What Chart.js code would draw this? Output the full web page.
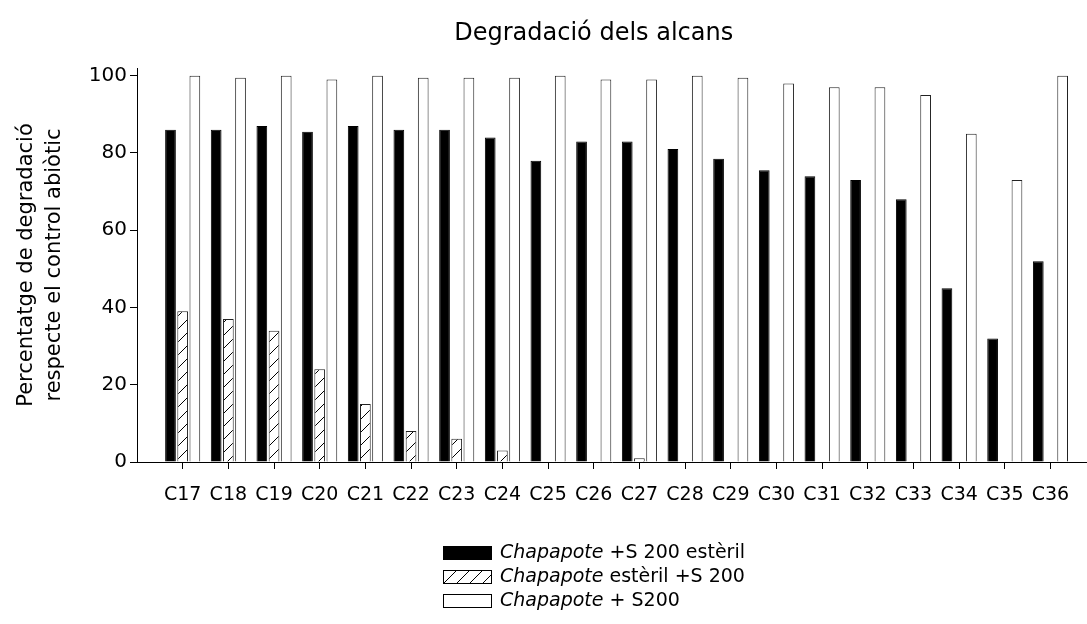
<!DOCTYPE html>
<html>
<head>
<meta charset="utf-8">
<title>Degradació dels alcans</title>
<script src="https://cdn.jsdelivr.net/npm/chart.js@4.4.0/dist/chart.umd.min.js"></script>
<style>
    html, body { margin: 0; padding: 0; background: #fff; }
    #wrap { width: 1087px; height: 624px; }
</style>
</head>
<body>
<div id="wrap"><canvas id="alkaneChart" width="1087" height="624"></canvas></div>
<script>
// Alkane chain lengths
const categories = ['C17', 'C18', 'C19', 'C20', 'C21', 'C22', 'C23', 'C24', 'C25', 'C26',
                    'C27', 'C28', 'C29', 'C30', 'C31', 'C32', 'C33', 'C34', 'C35', 'C36'];

// % degradation vs abiotic control
const sterileS200 = [86, 86, 87, 85.5, 87, 86, 86, 84, 78, 83, 83, 81, 78.5, 75.5, 74, 73, 68, 45, 32, 52];
const sterileChapapote = [39, 37, 34, 24, 15, 8, 6, 3, 0, 0, 1, 0, 0, 0, 0, 0, 0, 0, 0, 0];
const chapapoteS200 = [100, 99.5, 100, 99, 100, 99.5, 99.5, 99.5, 100, 99, 99, 100, 99.5, 98, 97, 97, 95, 85, 73, 100];

const yTicks = [0, 20, 40, 60, 80, 100];

const legendItalic = ['Chapapote', 'Chapapote', 'Chapapote'];
const legendRest = [' +S 200 estèril', ' estèril +S 200', ' + S200'];

const FONT = "'DejaVu Sans', sans-serif";

// Diagonal hatch fill for the sterile chapapote bars
function hatchPattern(ctx) {
    const size = 13;
    const c = document.createElement('canvas');
    c.width = size;
    c.height = size;
    const g = c.getContext('2d');
    g.fillStyle = '#fff';
    g.fillRect(0, 0, size, size);
    g.strokeStyle = '#000';
    g.lineWidth = 1;
    g.beginPath();
    g.moveTo(0, size);
    g.lineTo(size, 0);
    g.moveTo(-1, 1);
    g.lineTo(1, -1);
    g.moveTo(size - 1, size + 1);
    g.lineTo(size + 1, size - 1);
    g.stroke();
    return ctx.createPattern(c, 'repeat');
}

const toPoints = arr => arr.map((v, i) => ({ x: i, y: v }));

// Title and stacked legend, drawn on the canvas after the bars
const annotations = {
    id: 'annotations',
    afterDraw(chart) {
        const { ctx, chartArea, scales } = chart;
        ctx.save();
        ctx.fillStyle = '#000';
        ctx.textBaseline = 'alphabetic';

        // title, centred between the y axis and the last category
        ctx.font = '24px ' + FONT;
        ctx.textAlign = 'center';
        const titleX = (chartArea.left + scales.x.getPixelForValue(categories.length - 1)) / 2;
        ctx.fillText('Degradació dels alcans', titleX, 40);

        // legend
        ctx.textAlign = 'left';
        ctx.textBaseline = 'middle';
        const boxX = 443, boxW = 49, boxH = 14, textX = 500;
        chart.data.datasets.forEach((ds, i) => {
            const cy = 553 + i * 24;
            ctx.fillStyle = ds.backgroundColor;
            ctx.fillRect(boxX, cy - boxH / 2, boxW, boxH);
            ctx.strokeStyle = '#000';
            ctx.lineWidth = 1;
            ctx.strokeRect(boxX + 0.5, cy - boxH / 2 + 0.5, boxW - 1, boxH - 1);

            ctx.fillStyle = '#000';
            ctx.font = 'italic 19px ' + FONT;
            ctx.fillText(legendItalic[i], textX, cy);
            const w = ctx.measureText(legendItalic[i]).width;
            ctx.font = '19px ' + FONT;
            ctx.fillText(legendRest[i], textX + w, cy);
        });
        ctx.restore();
    }
};

const ctx = document.getElementById('alkaneChart').getContext('2d');

new Chart(ctx, {
    type: 'bar',
    data: {
        datasets: [
            {
                label: legendItalic[0] + legendRest[0],
                data: toPoints(sterileS200),
                backgroundColor: '#000',
                borderColor: '#000',
                borderWidth: 1
            },
            {
                label: legendItalic[1] + legendRest[1],
                data: toPoints(sterileChapapote),
                backgroundColor: hatchPattern(ctx),
                borderColor: '#222',
                borderWidth: 1
            },
            {
                label: legendItalic[2] + legendRest[2],
                data: toPoints(chapapoteS200),
                backgroundColor: '#fff',
                borderColor: '#222',
                borderWidth: 1
            }
        ]
    },
    options: {
        responsive: false,
        devicePixelRatio: 1,
        animation: false,
        categoryPercentage: 0.8,
        barPercentage: 0.88,
        layout: {
            padding: { top: 68, right: 0, bottom: 0, left: 0 }
        },
        scales: {
            x: {
                type: 'linear',
                min: -1,
                max: 19.8,
                offset: false,
                grid: {
                    offset: false,
                    drawOnChartArea: false,
                    drawTicks: true,
                    tickLength: 7,
                    color: '#000'
                },
                border: { display: true, color: '#000', width: 1 },
                ticks: {
                    autoSkip: false,
                    maxRotation: 0,
                    padding: 15,
                    color: '#000',
                    font: { family: FONT, size: 19 },
                    callback: v => categories[v] ?? ''
                },
                afterBuildTicks: scale => {
                    scale.ticks = categories.map((c, i) => ({ value: i }));
                },
                afterFit: scale => {
                    scale.height = 162;
                }
            },
            y: {
                min: 0,
                max: 102,
                grid: {
                    drawOnChartArea: false,
                    drawTicks: true,
                    tickLength: 7,
                    color: '#000'
                },
                border: { display: true, color: '#000', width: 1 },
                ticks: {
                    padding: 3,
                    color: '#000',
                    font: { family: FONT, size: 20 }
                },
                afterBuildTicks: scale => {
                    scale.ticks = yTicks.map(v => ({ value: v }));
                },
                title: {
                    display: true,
                    text: ['Percentatge de degradació', 'respecte el control abiòtic'],
                    color: '#000',
                    font: { family: FONT, size: 21, lineHeight: 1.35 },
                    padding: { top: 12, bottom: 0 }
                },
                afterFit: scale => {
                    scale.width = 137;
                }
            }
        },
        plugins: {
            legend: { display: false },
            title: { display: false },
            tooltip: { enabled: false }
        }
    },
    plugins: [annotations]
});
</script>
</body>
</html>
